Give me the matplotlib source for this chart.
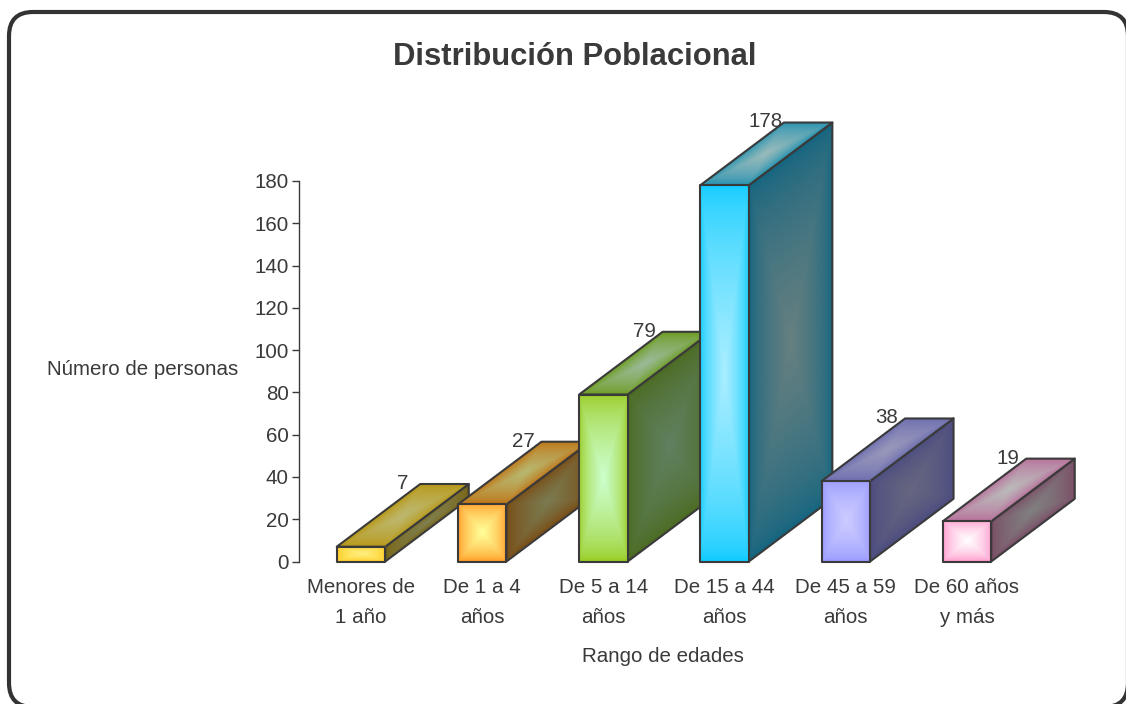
import numpy as np
import matplotlib
matplotlib.use('Agg')
import matplotlib.pyplot as plt
from matplotlib.colors import LinearSegmentedColormap
from matplotlib.patches import FancyBboxPatch, Polygon
from matplotlib.transforms import Affine2D, IdentityTransform

categorias = ['Menores de\n1 año', 'De 1 a 4\naños', 'De 5 a 14\naños',
              'De 15 a 44\naños', 'De 45 a 59\naños', 'De 60 años\ny más']
valores = [7, 27, 79, 178, 38, 19]
yticks = [0, 20, 40, 60, 80, 100, 120, 140, 160, 180]

# (borde, centro) of each gradient
frente = [('#ffcc22', '#fff080'), ('#ff9922', '#ffff99'), ('#99cc22', '#ccffcc'),
          ('#11ccff', '#aaeeff'), ('#9999ff', '#ccccff'), ('#ff99cc', '#ffffff')]
arriba = [('#b8960f', '#bdb870'), ('#c07010', '#b8b870'), ('#6b9a18', '#99bb99'),
          ('#2090b0', '#99bbbb'), ('#6b6bb0', '#9999bb'), ('#b86b99', '#bbbbbb')]
lado = [('#7a6510', '#7f7f50'), ('#7a4a10', '#7a7a50'), ('#4b6b20', '#608060'),
        ('#156580', '#668080'), ('#4b4b80', '#666680'), ('#7b4b66', '#808080')]

plt.rcParams['font.family'] = ['Liberation Sans', 'DejaVu Sans']
gris = '#3a3a3a'
W, H = 1126, 704
fs = 14.8

fig = plt.figure(figsize=(W / 100, H / 100), dpi=100, facecolor='white')

# rounded frame, runs off the right and bottom of the image
fig.add_artist(FancyBboxPatch((33, 21), 1071, H - 57,
                              boxstyle='round,pad=24,rounding_size=24',
                              transform=IdentityTransform(), facecolor='white',
                              edgecolor='#333333', linewidth=3, zorder=-1))

ax = fig.add_axes([299 / W, 1 - 561.5 / H, (1090 - 299) / W, 380.5 / H])
ax.patch.set_alpha(0)
px_x = 121.2  # pixels per category
x_izq = (299 - 361) / px_x
ax.set_xlim(x_izq, x_izq + (1090 - 299) / px_x)
ax.set_ylim(0, 180)

ancho = 48.5 / px_x
dx = 83.5 / px_x
dy = 62.7 / (380.5 / 180)

# rectangular gradient, bright in the middle and base colour on the edges
u, v = np.meshgrid(np.linspace(-1, 1, 101), np.linspace(-1, 1, 101))
grad = (1 - np.maximum(np.abs(u), np.abs(v))) ** 0.65


def cara(origen, vec_u, vec_v, colores, z):
    cmap = LinearSegmentedColormap.from_list('c', colores)
    t = Affine2D.from_values(vec_u[0], vec_u[1], vec_v[0], vec_v[1], origen[0], origen[1])
    im = ax.imshow(grad, extent=(0, 1, 0, 1), origin='lower', cmap=cmap, vmin=0, vmax=1,
                   interpolation='bilinear', aspect='auto',
                   transform=t + ax.transData, zorder=z)
    im.set_clip_on(False)
    x0, y0 = origen
    pts = [(x0, y0), (x0 + vec_u[0], y0 + vec_u[1]),
           (x0 + vec_u[0] + vec_v[0], y0 + vec_u[1] + vec_v[1]),
           (x0 + vec_v[0], y0 + vec_v[1])]
    ax.add_patch(Polygon(pts, closed=True, fill=False, edgecolor=gris, linewidth=1.5,
                         joinstyle='round', clip_on=False, zorder=z + 0.1))


for i, val in enumerate(valores):
    x0 = i - ancho / 2
    z = 3 + i
    cara((x0 + ancho, 0), (dx, dy), (0, val), lado[i], z)
    cara((x0, val), (ancho, 0), (dx, dy), arriba[i], z + 0.3)
    cara((x0, 0), (ancho, 0), (0, val), frente[i], z + 0.6)
    ax.annotate(str(val), (x0 + dx, val + dy), xytext=(-13, 0.4), textcoords='offset points',
                ha='center', va='center', fontsize=fs, color=gris, zorder=20,
                annotation_clip=False)

ax.set_xlim(x_izq, x_izq + (1090 - 299) / px_x)
ax.set_ylim(0, 180)

ax.spines['top'].set_visible(False)
ax.spines['right'].set_visible(False)
ax.spines['bottom'].set_visible(False)
ax.spines['left'].set_color(gris)
ax.spines['left'].set_linewidth(1)

ax.set_yticks(yticks)
ax.tick_params(axis='y', length=5, width=1, color=gris, labelcolor=gris, labelsize=fs, pad=2.5)
ax.set_xticks(range(len(categorias)))
ax.set_xticklabels(categorias, linespacing=1.7)
ax.tick_params(axis='x', length=0, labelcolor=gris, labelsize=fs, pad=12)

fig.text(663 / W, 1 - 656 / H, 'Rango de edades', ha='center', va='center', fontsize=fs, color=gris)
fig.text(142.5 / W, 1 - 370 / H, 'Número de personas', ha='center', va='center', fontsize=fs, color=gris)
fig.text(575 / W, 1 - 57 / H, 'Distribución Poblacional', ha='center', va='center',
         fontsize=22.3, fontweight='bold', color=gris)

fig.savefig('out.png', dpi=100)
